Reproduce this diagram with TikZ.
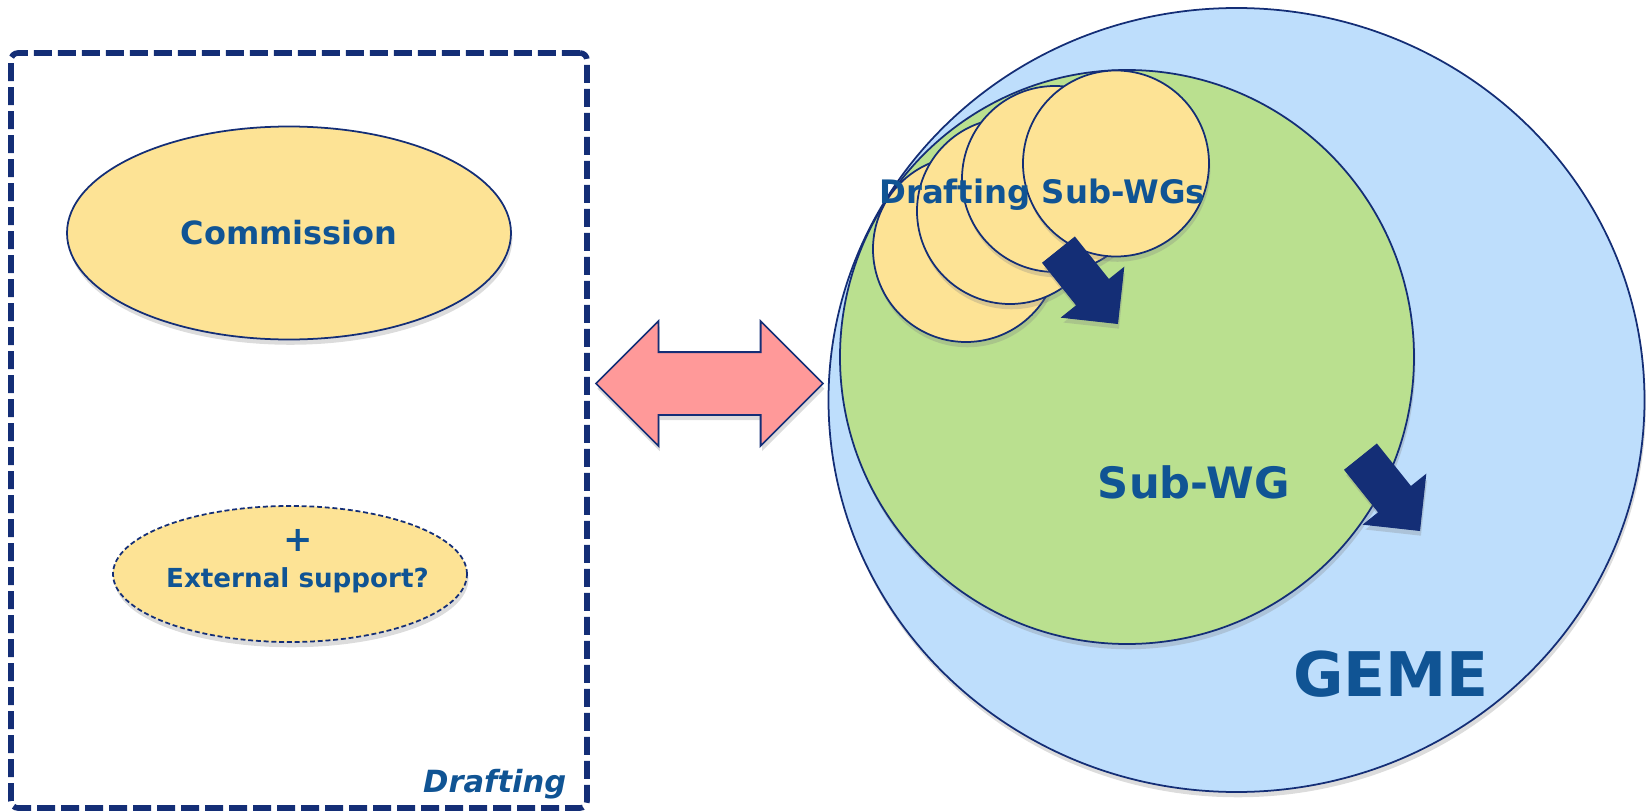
\documentclass[tikz,border=0pt]{standalone}
\usepackage{fontspec}
\setmainfont{DejaVu Sans}
\usetikzlibrary{positioning,shapes.geometric,shapes.arrows,shadows}
\definecolor{gemeblue}{RGB}{190,222,252}
\definecolor{subgreen}{RGB}{186,224,143}
\definecolor{wgyellow}{RGB}{253,227,149}
\definecolor{linkpink}{RGB}{255,153,153}
\definecolor{navy}{RGB}{20,46,118}
\definecolor{txtblue}{RGB}{16,84,148}

\begin{document}
\begin{tikzpicture}[
  bubble/.style={draw=navy, line width=0.5pt, inner sep=0pt, drop shadow={shadow xshift=0.4pt, shadow yshift=-1.5pt, opacity=0.28}},
  wgcircle/.style={bubble, circle, fill=wgyellow, minimum size=1.86cm},
  txt/.style={text=txtblue, font=\bfseries, inner sep=0pt},
  bigarrow/.style={single arrow, fill=navy, draw=navy, line width=0.3pt, inner sep=0pt, text height=0.40cm, text depth=0pt, minimum height=0.94cm, single arrow head extend=0.19cm, rotate=-51.3, anchor=tip, drop shadow={shadow xshift=0.4pt, shadow yshift=-1.5pt, opacity=0.28}}
]
\useasboundingbox (0,0) rectangle (16.47,-8.11);

% drafting side
\node[draw=navy, line width=1.6pt, dash pattern=on 0.18cm off 0.06cm, rounded corners=2pt, minimum width=5.76cm, minimum height=7.55cm] (drafting) at (2.99,-4.305) {};
\node[bubble, ellipse, fill=wgyellow, minimum width=4.44cm, minimum height=2.13cm, txt] (commission) at (2.89,-2.33) {\fontsize{9.1}{11}\selectfont Commission};
\node[bubble, ellipse, fill=wgyellow, dash pattern=on 1.4pt off 0.8pt, minimum width=3.54cm, minimum height=1.36cm] (external) at (2.90,-5.74) {};
\node[txt] (plus) at (2.98,-5.40) {\fontsize{10}{12}\selectfont +};
\node[txt, anchor=base] (support) at (2.975,-5.87) {\fontsize{7.45}{9}\selectfont External support?};
\node[txt, anchor=base east] (draftlabel) at (5.67,-7.92) {\fontsize{8.7}{10}\selectfont\itshape Drafting};

% GEME side
\node[bubble, ellipse, fill=gemeblue, minimum width=8.16cm, minimum height=7.84cm] (geme) at (12.365,-4.00) {};
\node[bubble, circle, fill=subgreen, minimum size=5.74cm] (subwg) at (11.27,-3.57) {};
\foreach \x/\y [count=\i] in {9.66/-2.49, 10.10/-2.11, 10.55/-1.79, 11.16/-1.635}
  \node[wgcircle] (wg\i) at (\x,\y) {};
\node[txt, anchor=base] (wgtext) at (10.42,-2.03) {\fontsize{9.2}{11}\selectfont Drafting Sub-WGs};
\node[bigarrow] (arrowwg) at (11.18,-3.24) {};
\node[txt, anchor=base] (subwgtext) at (11.94,-4.98) {\fontsize{12.3}{14}\selectfont Sub-WG};
\node[bigarrow] (arrowsub) at (14.20,-5.31) {};
\node[txt, anchor=base] (gemetext) at (13.91,-6.96) {\fontsize{17.5}{20}\selectfont GEME};

% link between both sides
\node[double arrow, fill=linkpink, draw=navy, line width=0.5pt, inner sep=0pt, text height=0.61cm, text depth=0pt, minimum height=2.27cm, double arrow head extend=0.31cm, drop shadow={shadow xshift=0.4pt, shadow yshift=-1.5pt, opacity=0.28}] (link) at (7.095,-3.835) {};
\end{tikzpicture}
\end{document}
